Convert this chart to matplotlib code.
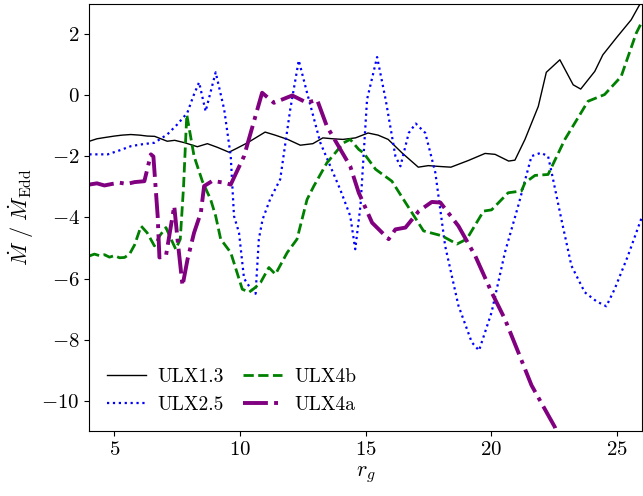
import matplotlib
matplotlib.use('Agg')
from matplotlib import pyplot as plt

plt.rcParams['font.family'] = 'serif'
plt.rcParams['font.serif'] = ['cmr10']
plt.rcParams['mathtext.fontset'] = 'cm'
plt.rcParams['axes.formatter.use_mathtext'] = True

# ULX1.3
x13 = [4.0, 4.3, 4.6, 5.0, 5.3, 5.65, 6.0, 6.3, 6.6, 7.1, 7.4, 7.8, 8.3, 8.7, 9.1, 9.56,
       9.9, 10.3, 10.7, 11.0, 11.4, 11.9, 12.4, 12.9, 13.3, 13.7, 14.1, 14.6, 15.1,
       15.5, 15.9, 16.45, 17.1, 17.5, 18.0, 18.4, 19.1, 19.76, 20.16, 20.7, 20.95,
       21.35, 21.88, 22.2, 22.74, 23.27, 23.57, 24.13, 24.45, 25.0, 25.58, 26.0]
y13 = [-1.5, -1.42, -1.38, -1.33, -1.3, -1.28, -1.3, -1.33, -1.34, -1.5, -1.47, -1.55,
       -1.68, -1.58, -1.7, -1.86, -1.72, -1.55, -1.35, -1.2, -1.3, -1.44, -1.63,
       -1.58, -1.39, -1.42, -1.44, -1.39, -1.23, -1.3, -1.44, -1.88, -2.35, -2.3,
       -2.33, -2.35, -2.13, -1.9, -1.93, -2.15, -2.12, -1.44, -0.36, 0.76, 1.17,
       0.35, 0.21, 0.79, 1.33, 1.9, 2.48, 3.1]

# ULX2.5
x25 = [4.0, 4.73, 5.2, 5.66, 6.1, 6.59, 7.1, 7.5, 7.9, 8.15, 8.37, 8.63, 9.03, 9.37,
       9.63, 9.76, 9.96, 10.16, 10.4, 10.62, 10.75, 10.9, 11.2, 11.6, 12.0, 12.34,
       12.67, 13.2, 13.99, 14.39, 14.59, 14.8, 15.06, 15.46, 15.8, 16.19, 16.39,
       16.72, 17.0, 17.38, 17.78, 18.17, 18.7, 19.23, 19.52, 20.02, 20.55, 21.08,
       21.61, 21.98, 22.27, 22.47, 22.8, 23.2, 23.73, 24.2, 24.59, 24.92, 25.45, 26.0]
y25 = [-1.93, -1.93, -1.8, -1.66, -1.6, -1.55, -1.28, -0.95, -0.57, 0.0, 0.43, -0.52,
       0.76, -0.46, -1.99, -3.95, -4.5, -6.0, -6.3, -6.5, -4.71, -4.06, -3.4, -2.75,
       -0.46, 1.15, 0.09, -1.55, -3.08, -3.95, -5.04, -3.6, -0.13, 1.26, -0.13,
       -1.99, -2.32, -1.23, -0.92, -1.23, -2.53, -4.93, -6.89, -8.09, -8.36, -7.11,
       -5.15, -3.62, -1.99, -1.88, -1.99, -2.75, -4.06, -5.58, -6.45, -6.75, -6.91,
       -6.35, -5.26, -4.0]

# ULX4b
x4b = [4.0, 4.2, 4.4, 4.6, 4.8, 5.0, 5.2, 5.4, 5.6, 5.8, 6.06, 6.3, 6.59, 6.8, 7.05,
       7.25, 7.44, 7.62, 7.75, 7.88, 8.17, 8.5, 8.83, 9.03, 9.23, 9.63, 10.09, 10.36,
       10.6, 10.82, 11.15, 11.41, 11.88, 12.27, 12.67, 12.94, 13.46, 14.13, 14.39,
       14.73, 14.92, 15.4, 16.05, 16.59, 17.31, 18.04, 18.64, 19.03, 19.7, 20.02,
       20.68, 21.21, 21.35, 21.75, 22.27, 22.94, 23.86, 24.52, 25.18, 25.78, 26.0]
y4b = [-5.26, -5.2, -5.25, -5.22, -5.3, -5.25, -5.32, -5.31, -5.2, -4.9, -4.28, -4.5,
       -4.93, -4.6, -4.33, -4.7, -5.04, -4.71, -3.0, -0.63, -1.99, -2.81, -3.41,
       -3.95, -4.71, -5.15, -6.35, -6.45, -6.3, -6.13, -5.64, -5.86, -5.15, -4.71,
       -3.41, -2.97, -2.21, -1.55, -1.44, -1.77, -1.88, -2.42, -2.81, -3.51, -4.44,
       -4.6, -4.87, -4.71, -3.79, -3.75, -3.19, -3.13, -2.86, -2.62, -2.59, -1.44,
       -0.19, 0.03, 0.62, 2.04, 2.4]

# ULX4a
x4a = [4.0, 4.3, 4.6, 4.9, 5.2, 5.5, 5.8, 6.19, 6.45, 6.55, 6.72, 6.79, 7.05, 7.38,
       7.51, 7.71, 7.91, 8.17, 8.44, 8.57, 8.9, 9.37, 9.63, 10.16, 10.88, 11.35,
       12.08, 12.67, 13.07, 13.46, 14.39, 14.73, 15.26, 15.92, 16.19, 16.59, 17.12,
       17.64, 17.98, 18.7, 19.37, 20.02, 20.55, 21.08, 21.61, 22.54, 22.8]
y4a = [-2.92, -2.88, -2.95, -2.9, -2.86, -2.9, -2.84, -2.81, -1.93, -2.0, -3.95,
       -5.31, -5.26, -3.62, -4.71, -6.24, -5.37, -4.5, -3.84, -2.97, -2.8, -2.86,
       -2.92, -1.99, 0.09, -0.24, 0.0, -0.24, -0.14, -1.01, -2.32, -3.19, -4.17,
       -4.71, -4.39, -4.33, -3.79, -3.49, -3.51, -4.28, -5.26, -6.45, -7.33, -8.41,
       -9.5, -10.87, -11.5]

fig = plt.figure(figsize=(6.43, 4.96), dpi=100)
ax = fig.add_axes([0.139, 0.131, 0.859, 0.861])

ax.plot(x13, y13, c='black', lw=1.0, ls='-', label='ULX1.3')
ax.plot(x25, y25, c='blue', lw=1.6, ls=':', label='ULX2.5')
ax.plot(x4b, y4b, c='green', lw=2.0, ls='--', label='ULX4b')
ax.plot(x4a, y4a, c='purple', lw=2.8, ls='-.', label='ULX4a')

ax.set_xlim(4, 26)
ax.set_ylim(-11, 3)
ax.set_xticks([5, 10, 15, 20, 25])
ax.set_yticks([-10, -8, -6, -4, -2, 0, 2])
ax.tick_params(axis='both', which='major', labelsize=15)

ax.set_xlabel(r'$r_g$', fontsize=16)
ax.set_ylabel(r'$\dot{M}\ /\ \dot{M}_{\rm Edd}$', fontsize=16)

ax.legend(loc='lower left', ncol=2, frameon=False, fontsize=14,
          handlelength=2.0, handletextpad=0.6, columnspacing=1.0,
          borderaxespad=0.5)

fig.savefig('out.png', dpi=100)
